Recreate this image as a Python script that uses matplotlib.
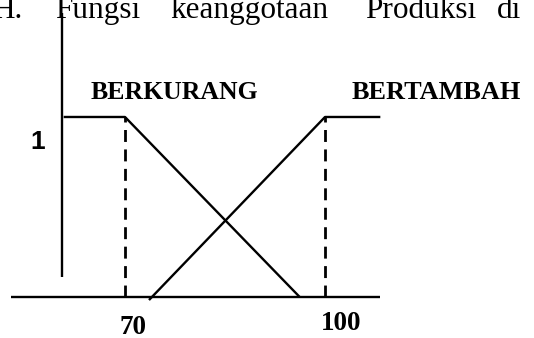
import matplotlib
matplotlib.use("Agg")
import matplotlib.pyplot as plt

plt.rcParams['lines.scale_dashes'] = False

# Membership function data
berkurang_x = [60.8, 70, 96.2]
berkurang_y = [1, 1, 0]
bertambah_x = [73.6, 100, 108.3]
bertambah_y = [-0.017, 1, 1]
dash_x = [70, 100]
tick_labels = ["70", "100"]
set_labels = ["BERKURANG", "BERTAMBAH"]
title_words = ["H.", "Fungsi", "keanggotaan", "Produksi", "di"]

fig = plt.figure(figsize=(5.34, 3.38), dpi=100)
ax = fig.add_axes([0, 0, 1, 1])
ax.set_xlim(51.25, 131.35)
ax.set_ylim(-0.228, 1.65)
ax.axis('off')

lw = 1.7
# horizontal axis (baseline)
ax.plot([52.9, 108.3], [0, 0], color='black', lw=lw, solid_capstyle='butt')
# vertical axis
ax.plot([60.6, 60.6], [0.11, 1.578], color='black', lw=lw, solid_capstyle='butt')

# membership functions
ax.plot(berkurang_x, berkurang_y, color='black', lw=lw, solid_capstyle='butt')
ax.plot(bertambah_x, bertambah_y, color='black', lw=lw, solid_capstyle='butt')

# dashed guides
for xv in dash_x:
    ax.plot([xv, xv], [0, 1], color='black', lw=lw + 0.3,
            dashes=(8.6, 5.4), dash_capstyle='butt')

serif = ['Liberation Serif', 'DejaVu Serif']
sans = ['Liberation Sans', 'DejaVu Sans']

# tick labels
ax.text(71.2, -0.169, tick_labels[0], ha='center', va='center',
        fontsize=19.5, fontweight='bold', family=serif)
ax.text(102.4, -0.15, tick_labels[1], ha='center', va='center',
        fontsize=19.5, fontweight='bold', family=serif)

# membership = 1 label
ax.text(56.9, 0.86, "1", ha='center', va='center',
        fontsize=19, fontweight='bold', family=sans)

# set labels
ax.text(64.9, 1.10, set_labels[0], ha='left', va='baseline',
        fontsize=18.5, fontweight='bold', family=serif)
ax.text(104.0, 1.10, set_labels[1], ha='left', va='baseline',
        fontsize=18.9, fontweight='bold', family=serif)

# cropped heading text at the top (justified words)
word_px = [-8, 55, 170, 365, 497]
for w, px in zip(title_words, word_px):
    fig.text(px / 534, 1 - 18 / 338, w, ha='left', va='baseline',
             fontsize=22.5, family=serif)

fig.savefig("out.png", dpi=100)
